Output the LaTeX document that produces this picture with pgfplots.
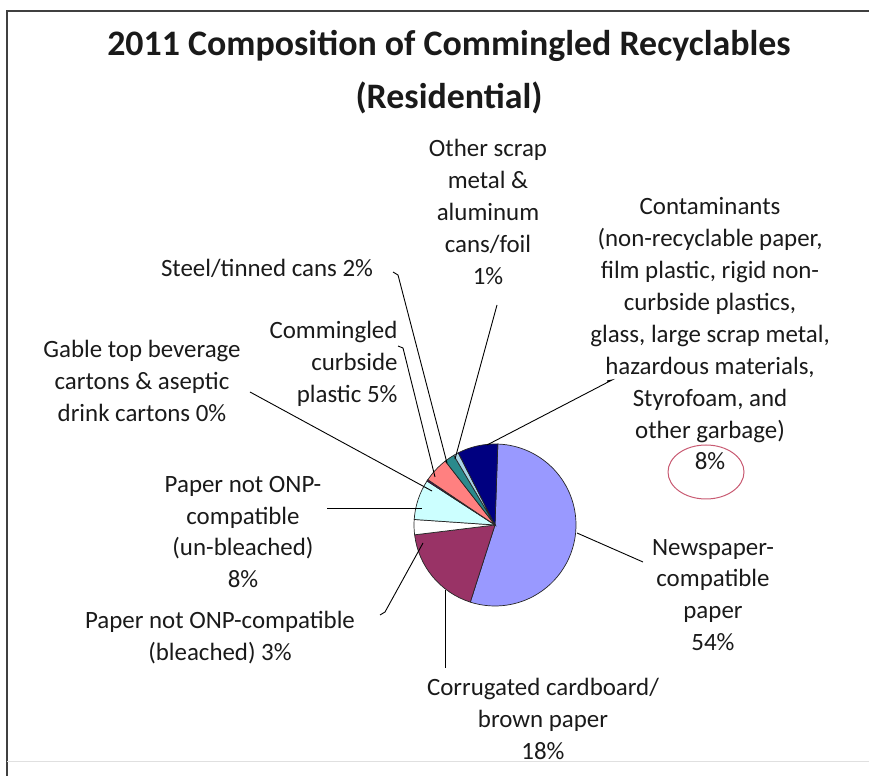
\documentclass[border=0pt]{standalone}
\usepackage{pgfplots}
\usepackage{pgfplotstable}
\pgfplotsset{compat=1.18}
\usepackage{fontspec}
\setmainfont{Carlito}

% Slice colours
\definecolor{cNews}{HTML}{9999FF}
\definecolor{cCorr}{HTML}{993366}
\definecolor{cBleach}{HTML}{FFFFFF}
\definecolor{cUnb}{HTML}{CCFFFF}
\definecolor{cGable}{HTML}{660066}
\definecolor{cPlast}{HTML}{FF8080}
\definecolor{cSteel}{HTML}{2A8A8C}
\definecolor{cScrap}{HTML}{A8D4E6}
\definecolor{cCont}{HTML}{000080}
\definecolor{txt}{HTML}{1A1A1A}
\definecolor{ring}{HTML}{C85A72}

% Share of each material (percent), clockwise from the top
\pgfplotstableread{
name     value colour
news     54    cNews
corr     18    cCorr
bleach   3     cBleach
unbleach 8     cUnb
gable    0.3   cGable
plastic  5     cPlast
steel    2     cSteel
scrap    1     cScrap
contam   8     cCont
}\pietable

\begin{document}
\begin{tikzpicture}[x=1bp,y=1bp]
\path[use as bounding box] (0,0) rectangle (869,776);
% frame
\draw[line width=1.6bp, black!75] (7,0) -- (7,765) -- (869,765);
\draw[line width=0.8bp, black!12] (7,15) -- (869,15);

\begin{axis}[
  at={(0,0)}, anchor=origin,
  x=1bp, y=1bp,
  xmin=0, xmax=869, ymin=0, ymax=776,
  hide axis, clip=false,
]
\pgfplotstablegetrowsof{\pietable}
\pgfmathtruncatemacro\lastrow{\pgfplotsretval-1}
% total of all shares
\def\pietotal{0}
\pgfplotsforeachungrouped \i in {0,...,\lastrow}{%
  \pgfplotstablegetelem{\i}{value}\of\pietable
  \pgfmathsetmacro\pietotal{\pietotal+\pgfplotsretval}%
}
% wedges
\def\curang{88}
\pgfplotsforeachungrouped \i in {0,...,\lastrow}{%
  \pgfplotstablegetelem{\i}{value}\of\pietable
  \let\val\pgfplotsretval
  \pgfplotstablegetelem{\i}{colour}\of\pietable
  \let\col\pgfplotsretval
  \pgfmathsetmacro\nextang{\curang-\val/\pietotal*360}%
  \edef\wedge{\noexpand\filldraw[fill=\col, draw=black!85, line width=0.7bp]
    (axis cs:495,251) -- ++(\curang:81) arc[start angle=\curang, end angle=\nextang, radius=81] -- cycle;}%
  \wedge
  \global\let\curang\nextang
}
\end{axis}

% title
\node[txt, font=\fontsize{36}{53}\selectfont\bfseries, align=center] at (449,704)
  {2011 Composition of Commingled Recyclables\\(Residential)};

% leader lines
\begin{scope}[line width=0.9bp, black]
\draw (577,243) -- (643,214);
\draw (445,186) -- (445,108);
\draw (423,233) -- (385,164) -- (380,161);
\draw (327,268) -- (422,268);
\draw (250,384) -- (432,285);
\draw (398,430) -- (403,428) -- (435,299);
\draw (393,504) -- (398,501) -- (447,313);
\draw (497,471) -- (455,317);
\draw (607,395) -- (612,396) -- (487,331);
\end{scope}

% callout ring
\draw[ring, line width=1bp] (706,304) ellipse [x radius=38, y radius=27];

% labels
\begin{scope}[txt, font=\fontsize{25}{32}\selectfont]
\node[align=center] at (488,564) {Other scrap\\metal \&\\aluminum\\cans/foil\\1\%};
\node[align=center] at (710,442) {Contaminants\\(non-recyclable paper,\\film plastic, rigid non-\\curbside plastics,\\glass, large scrap metal,\\hazardous materials,\\Styrofoam, and\\other garbage)\\8\%};
\node at (267,508) {Steel/tinned cans 2\%};
\node[align=right, anchor=east] at (401,412) {Commingled\\curbside\\plastic 5\%};
\node[align=center] at (142,395) {Gable top beverage\\cartons \& aseptic\\drink cartons 0\%};
\node[align=center] at (243,244) {Paper not ONP-\\compatible\\(un-bleached)\\8\%};
\node[align=center] at (220,138) {Paper not ONP-compatible\\(bleached) 3\%};
\node[align=center] at (713,181) {Newspaper-\\compatible\\paper\\54\%};
\node[align=center] at (543,57) {Corrugated cardboard/\\brown paper\\18\%};
\end{scope}
\end{tikzpicture}
\end{document}
